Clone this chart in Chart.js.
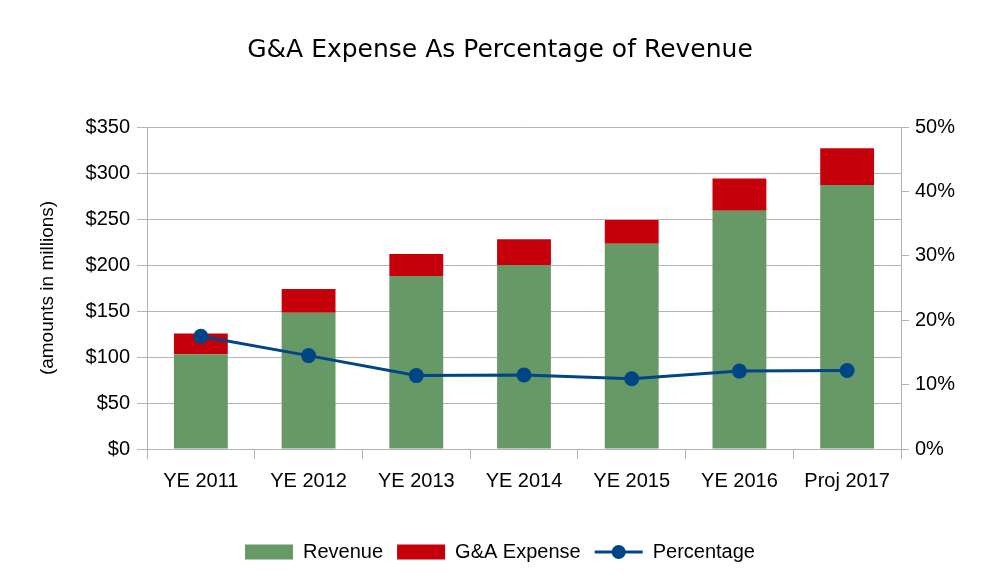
<!DOCTYPE html>
<html>
<head>
<meta charset="utf-8">
<script src="https://cdn.jsdelivr.net/npm/chart.js@4"></script>
<style>
  html, body { margin: 0; padding: 0; background: #fff; }
  #wrap { width: 1000px; height: 584px; }
</style>
</head>
<body>
<div id="wrap"><canvas id="gaChart" width="1000" height="584"></canvas></div>
<script>
// dati
const categories = ['YE 2011', 'YE 2012', 'YE 2013', 'YE 2014', 'YE 2015', 'YE 2016', 'Proj 2017'];
const revenue = [103, 148, 188, 200, 223, 259, 287];
const gaExpense = [22.5, 26, 24, 28, 26, 35, 40];
const percentage = [17.5, 14.5, 11.4, 11.5, 10.9, 12.1, 12.2];
const dollarTicks = [0, 50, 100, 150, 200, 250, 300, 350];
const percentTicks = [0, 10, 20, 30, 40, 50];

const GREEN = '#669966';
const RED = '#c5000b';
const BLUE = '#004586';
const GRID = '#b3b3b3';

Chart.defaults.color = '#000';
Chart.defaults.font.family = '"Liberation Sans", Arial, sans-serif';
Chart.defaults.font.size = 20;

//disegna il pallino sul simbolo della legenda della linea
const legendDot = {
    id: 'legendDot',
    afterDraw(chart) {
        const legend = chart.legend;
        if (!legend || !legend.legendHitBoxes) return;
        const box = legend.legendHitBoxes[2];
        if (!box) return;
        const ctx = chart.ctx;
        ctx.save();
        ctx.fillStyle = BLUE;
        ctx.beginPath();
        ctx.arc(box.left + 24, box.top + 10, 7, 0, Math.PI * 2);
        ctx.fill();
        ctx.restore();
    }
};

const ctx = document.getElementById('gaChart').getContext('2d');
new Chart(ctx, {
    type: 'bar',
    data: {
        labels: categories,
        datasets: [
            {
                label: 'Revenue',
                data: revenue,
                backgroundColor: GREEN,
                yAxisID: 'y',
                stack: 's',
                order: 1
            },
            {
                label: 'G&A Expense',
                data: gaExpense,
                backgroundColor: RED,
                yAxisID: 'y',
                stack: 's',
                order: 1
            },
            {
                type: 'line',
                label: 'Percentage',
                data: percentage,
                borderColor: BLUE,
                backgroundColor: BLUE,
                borderWidth: 3,
                pointRadius: 7.5,
                pointBorderWidth: 0,
                pointStyle: 'circle',
                yAxisID: 'y1',
                order: 0
            }
        ]
    },
    options: {
        responsive: false,
        animation: false,
        datasets: {
            bar: { categoryPercentage: 1, barPercentage: 0.5 }
        },
        layout: { padding: { left: 0, right: 0, top: 0, bottom: 12 } },
        plugins: {
            title: {
                display: true,
                text: 'G&A Expense As Percentage of Revenue',
                font: { family: '"DejaVu Sans", sans-serif', size: 25, weight: 'normal' },
                color: '#000',
                padding: { top: 35, bottom: 62 }
            },
            legend: {
                position: 'bottom',
                labels: {
                    usePointStyle: true,
                    pointStyleWidth: 48,
                    boxHeight: 15,
                    padding: 14,
                    font: { size: 20 },
                    generateLabels(chart) {
                        return chart.data.datasets.map((ds, i) => ({
                            text: ds.label,
                            fillStyle: ds.backgroundColor,
                            strokeStyle: ds.type === 'line' ? BLUE : ds.backgroundColor,
                            lineWidth: ds.type === 'line' ? 3 : 0,
                            pointStyle: ds.type === 'line' ? 'line' : 'rect',
                            datasetIndex: i,
                            hidden: false
                        }));
                    }
                }
            },
            tooltip: { enabled: false }
        },
        scales: {
            x: {
                stacked: true,
                grid: {
                    display: true,
                    drawOnChartArea: false,
                    tickLength: 10,
                    color: GRID,
                    offset: true
                },
                border: { color: GRID },
                ticks: { padding: 10, maxRotation: 0, font: { size: 20 } },
                afterFit(scale) { scale.height = 79; }
            },
            y: {
                position: 'left',
                stacked: true,
                min: 0,
                max: 350,
                afterBuildTicks(scale) { scale.ticks = dollarTicks.map(v => ({ value: v })); },
                grid: { color: GRID, tickLength: 10 },
                border: { color: GRID },
                ticks: {
                    padding: 7,
                    font: { size: 20 },
                    callback: v => '$' + v
                },
                title: {
                    display: true,
                    text: '(amounts in millions)',
                    font: { size: 19 },
                    padding: { top: 36, bottom: 0 }
                },
                afterFit(scale) { scale.width = 147; }
            },
            y1: {
                position: 'right',
                min: 0,
                max: 50,
                afterBuildTicks(scale) { scale.ticks = percentTicks.map(v => ({ value: v })); },
                grid: { drawOnChartArea: false, color: GRID, tickLength: 8 },
                border: { color: GRID },
                ticks: {
                    padding: 6,
                    font: { size: 20 },
                    callback: v => v + '%'
                },
                afterFit(scale) { scale.width = 99; }
            }
        }
    },
    plugins: [legendDot]
});
</script>
</body>
</html>
